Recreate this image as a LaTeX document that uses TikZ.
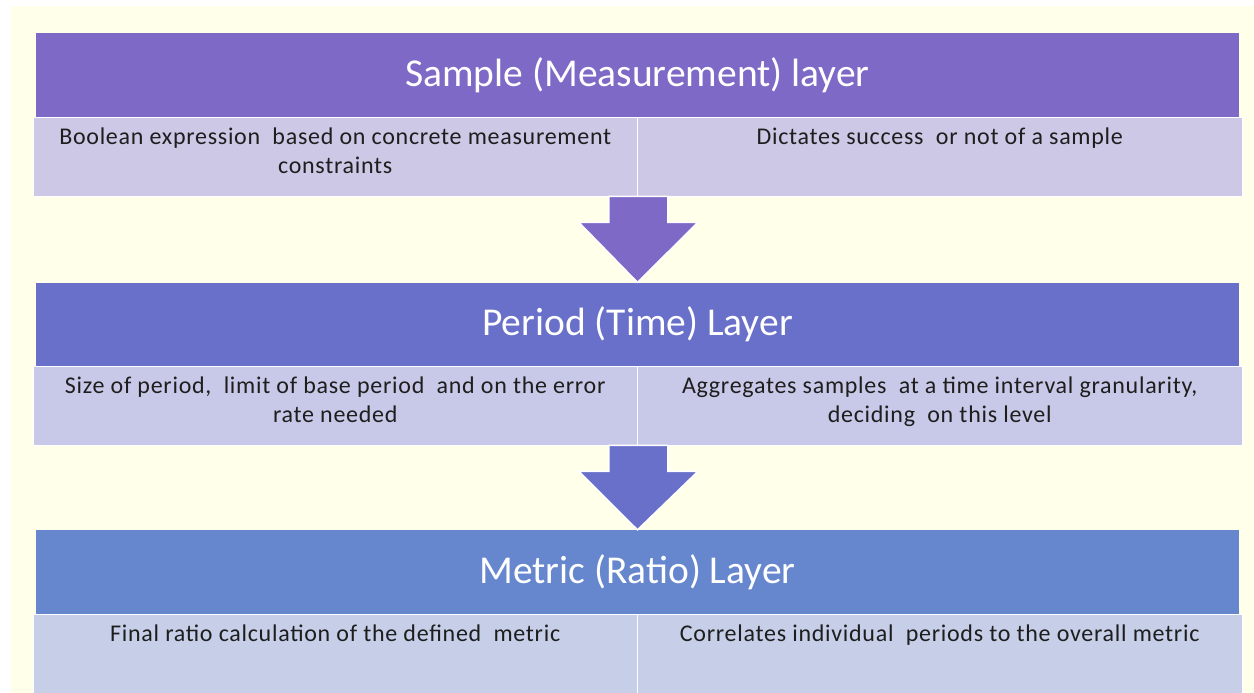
\documentclass[tikz,border=0pt]{standalone}
\usepackage{fontspec}
\setmainfont{Carlito}
\newfontfamily\cellfont[LetterSpace=3]{Carlito}
\usetikzlibrary{calc}
\definecolor{bgyellow}{HTML}{FFFFEA}
\definecolor{hdA}{HTML}{7E69C6}
\definecolor{hdB}{HTML}{6870CA}
\definecolor{hdC}{HTML}{6686CD}
\definecolor{clA}{HTML}{CCC8E6}
\definecolor{clB}{HTML}{C8C9E8}
\definecolor{clC}{HTML}{C6CEE8}
\definecolor{txt}{HTML}{1E1E1E}
\begin{document}
\begin{tikzpicture}[x=1pt,y=-1pt,
  header/.style={rectangle, inner sep=0pt, minimum width=1203pt, minimum height=84pt, text=white, font=\fontsize{39.5}{46}\selectfont},
  cellbox/.style={rectangle, inner sep=0pt, draw=white, line width=0.8pt, minimum width=604.5pt, minimum height=79pt},
  celltext/.style={anchor=north, align=center, inner sep=0pt, text=txt, font=\cellfont\fontsize{24}{29}\selectfont},
  downarrow/.style={draw=white, line width=1.5pt, line join=miter}
]
\useasboundingbox (0,0) rectangle (1254,693);
\fill[white] (0,0) rectangle (1254,693);
\fill[bgyellow] (11,6) rectangle (1254,693);

% Layer 1
\node[header, fill=hdA] (h1) at (637.5,75) {Sample (Measurement) layer};
\node[cellbox, fill=clA] (c1l) at (335.25,156.5) {};
\node[cellbox, fill=clA] (c1r) at (939.75,156.5) {};
\node[celltext] (t1l) at ($(c1l.north)+(0,11)$) {Boolean expression\ \ based on concrete measurement\\ constraints};
\node[celltext] (t1r) at ($(c1r.north)+(0,11)$) {Dictates success\ \ or not of a sample};

% Layer 2
\node[header, fill=hdB] (h2) at (637.5,324.5) {Period (Time) Layer};
\node[cellbox, fill=clB] (c2l) at (335.25,405.5) {};
\node[cellbox, fill=clB] (c2r) at (939.75,405.5) {};
\node[celltext] (t2l) at ($(c2l.north)+(0,11)$) {Size of period,\ \ limit of base period\ \ and on the error\\ rate needed};
\node[celltext] (t2r) at ($(c2r.north)+(0,11)$) {Aggregates samples\ \ at a time interval granularity,\\ deciding\ \ on this level};

% Layer 3
\node[header, fill=hdC] (h3) at (637.5,572) {Metric (Ratio) Layer};
\node[cellbox, fill=clC] (c3l) at (335.25,653.5) {};
\node[cellbox, fill=clC] (c3r) at (939.75,653.5) {};
\node[celltext] (t3l) at ($(c3l.north)+(0,11)$) {Final ratio calculation of the defined\ \ metric};
\node[celltext] (t3r) at ($(c3r.north)+(0,11)$) {Correlates individual\ \ periods to the overall metric};

% Arrows
\coordinate (a1top) at ($(c1l.south east)+(0.5,0)$);
\coordinate (a1tip) at (h2.north);
\filldraw[downarrow, fill=hdA]
  ($(a1top)+(-29.5,0)$) -- ($(a1top)+(29.5,0)$) -- ($(a1top)+(29.5,26)$) -- ($(a1top)+(59.5,26)$)
  -- (a1tip) -- ($(a1top)+(-59.5,26)$) -- ($(a1top)+(-29.5,26)$) -- cycle;
\coordinate (a2top) at ($(c2l.south east)+(0.5,0)$);
\coordinate (a2tip) at (h3.north);
\filldraw[downarrow, fill=hdB]
  ($(a2top)+(-29.5,0)$) -- ($(a2top)+(29.5,0)$) -- ($(a2top)+(29.5,26)$) -- ($(a2top)+(59.5,26)$)
  -- (a2tip) -- ($(a2top)+(-59.5,26)$) -- ($(a2top)+(-29.5,26)$) -- cycle;
\end{tikzpicture}
\end{document}
